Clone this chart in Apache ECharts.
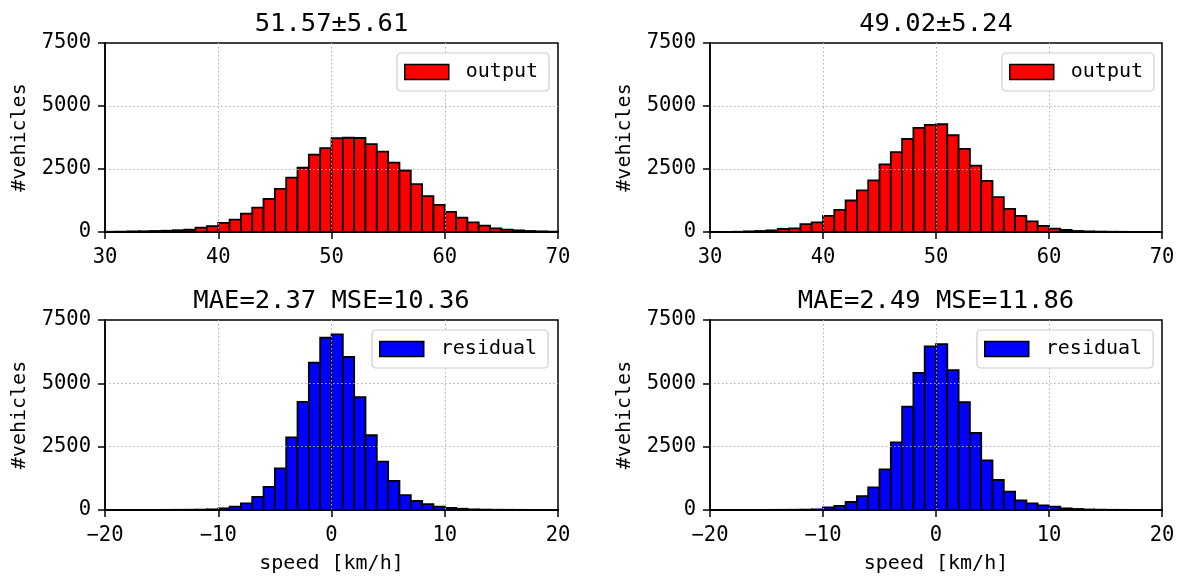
<!DOCTYPE html>
<html>
<head>
<meta charset="utf-8">
<script src="https://cdn.jsdelivr.net/npm/echarts@6/dist/echarts.min.js"></script>
<style>
html,body{margin:0;padding:0;background:#fff;}
#chart{width:1182px;height:578px;}
</style>
</head>
<body>
<div id="chart"></div>
<script>
// ---- data ----
const titles = ['51.57\u00b15.61', '49.02\u00b15.24', 'MAE=2.37 MSE=10.36', 'MAE=2.49 MSE=11.86'];
const outputBinStart = 30;
const residualBinStart = -20;
const binWidth = 1;
const outputLeft = [10,15,25,30,40,50,70,90,170,230,360,490,730,970,1310,1710,2160,2550,3070,3330,3720,3740,3730,3490,3190,2750,2440,1900,1420,1080,800,570,385,250,145,95,65,40,25,15];
const outputRight = [5,5,10,25,40,65,120,145,310,385,640,875,1250,1650,2045,2680,3170,3690,4130,4250,4275,3840,3300,2630,2030,1380,920,640,425,240,135,80,40,25,15,10,8,5,5,5];
const residualLeft = [3,3,4,5,5,6,8,10,15,25,65,130,265,515,910,1645,2870,4265,5815,6800,6935,6040,4450,2950,1910,1145,590,355,235,130,80,50,25,15,10,8,6,5,4,3];
const residualRight = [3,3,4,5,5,6,8,10,15,25,105,160,315,550,895,1605,2670,4080,5410,6460,6550,5525,4260,3040,1960,1185,725,380,265,185,130,65,40,20,12,8,6,5,4,3];
const outputTicks = [30, 40, 50, 60, 70];
const residualTicks = [-20, -10, 0, 10, 20];
const countTicks = [0, 2500, 5000, 7500];

const FONT = 'DejaVu Sans Mono';

function toBins(start, counts) {
  return counts.map((c, i) => [start + i * binWidth, start + (i + 1) * binWidth, c]);
}

const grids = [
  {left: 105, top: 43, width: 453, height: 189},
  {left: 710, top: 43, width: 452, height: 189},
  {left: 105, top: 320, width: 453, height: 190},
  {left: 710, top: 320, width: 452, height: 190}
];

const chart = echarts.init(document.getElementById('chart'), null, {renderer: 'canvas'});

const splitStyle = {show: true, showMinLine: false, showMaxLine: false,
  lineStyle: {color: '#b0b0b0', type: [1.5, 2.5], width: 1}};

function xAxis(idx, ticks, name) {
  return {
    type: 'value', gridIndex: idx, min: ticks[0], max: ticks[ticks.length - 1],
    interval: ticks[1] - ticks[0], z: 3,
    axisLine: {show: true, onZero: false, lineStyle: {color: '#000', width: 1.5}},
    axisTick: {show: true, inside: false, length: 7, lineStyle: {color: '#000', width: 1.5}},
    axisLabel: {show: true, color: '#000', fontFamily: FONT, fontSize: 20.5, margin: 15,
      formatter: v => (v < 0 ? '\u2212' + Math.abs(v) : String(v))},
    splitLine: splitStyle,
    name: name || '', nameLocation: 'middle', nameGap: 44,
    nameTextStyle: {color: '#000', fontFamily: FONT, fontSize: 20}
  };
}
function yAxis(idx) {
  return {
    type: 'value', gridIndex: idx, min: countTicks[0], max: countTicks[countTicks.length - 1],
    interval: countTicks[1] - countTicks[0], z: 3,
    axisLine: {show: true, onZero: false, lineStyle: {color: '#000', width: 1.5}},
    axisTick: {show: true, inside: false, length: 7, lineStyle: {color: '#000', width: 1.5}},
    axisLabel: {show: true, color: '#000', fontFamily: FONT, fontSize: 20.5, margin: 14,
      formatter: v => String(v)},
    splitLine: splitStyle,
    name: '#vehicles', nameLocation: 'middle', nameGap: 75,
    nameTextStyle: {color: '#000', fontFamily: FONT, fontSize: 20}
  };
}

function histSeries(name, idx, color, data) {
  return {
    type: 'custom', name: name, xAxisIndex: idx, yAxisIndex: idx, z: 1,
    itemStyle: {color: color, borderColor: '#000', borderWidth: 1.8},
    encode: {x: [0, 1], y: 2},
    data: data,
    renderItem: function (params, api) {
      const p0 = api.coord([api.value(0), api.value(2)]);
      const p1 = api.coord([api.value(1), 0]);
      return {
        type: 'rect',
        shape: {x: p0[0], y: p0[1], width: p1[0] - p0[0], height: p1[1] - p0[1]},
        style: {fill: color, stroke: '#000', lineWidth: 1.8}
      };
    }
  };
}

function legend(name, left, top) {
  return {
    data: [name], left: left, top: top, orient: 'horizontal',
    icon: 'rect', itemWidth: 44, itemHeight: 15,
    itemStyle: {borderColor: '#000', borderWidth: 1.5},
    backgroundColor: '#fff', borderColor: '#cccccc', borderWidth: 1.2, borderRadius: 4,
    padding: [9, 11, 9, 7], selectedMode: false,
    formatter: n => ' ' + n,
    textStyle: {color: '#000', fontFamily: FONT, fontSize: 20, lineHeight: 20}
  };
}

function title(text, cx, top) {
  return {text: text, left: cx, top: top, textAlign: 'center', padding: 0,
    textStyle: {color: '#000', fontFamily: FONT, fontSize: 25.5, fontWeight: 'normal'}};
}

chart.setOption({
  animation: false,
  backgroundColor: '#fff',
  title: [
    title(titles[0], 331.5, 11),
    title(titles[1], 936, 11),
    title(titles[2], 331.5, 288),
    title(titles[3], 936, 288)
  ],
  legend: [
    legend('output', 397, 53),
    legend('output', 1002, 53),
    legend('residual', 372, 330),
    legend('residual', 977, 330)
  ],
  grid: grids.map(g => Object.assign({show: true, borderColor: '#000', borderWidth: 1.5, backgroundColor: 'transparent'}, g)),
  xAxis: [
    xAxis(0, outputTicks), xAxis(1, outputTicks),
    xAxis(2, residualTicks, 'speed [km/h]'), xAxis(3, residualTicks, 'speed [km/h]')
  ],
  yAxis: [yAxis(0), yAxis(1), yAxis(2), yAxis(3)],
  series: [
    histSeries('output', 0, '#ff0000', toBins(outputBinStart, outputLeft)),
    histSeries('output', 1, '#ff0000', toBins(outputBinStart, outputRight)),
    histSeries('residual', 2, '#0000ff', toBins(residualBinStart, residualLeft)),
    histSeries('residual', 3, '#0000ff', toBins(residualBinStart, residualRight))
  ]
});
</script>
</body>
</html>
